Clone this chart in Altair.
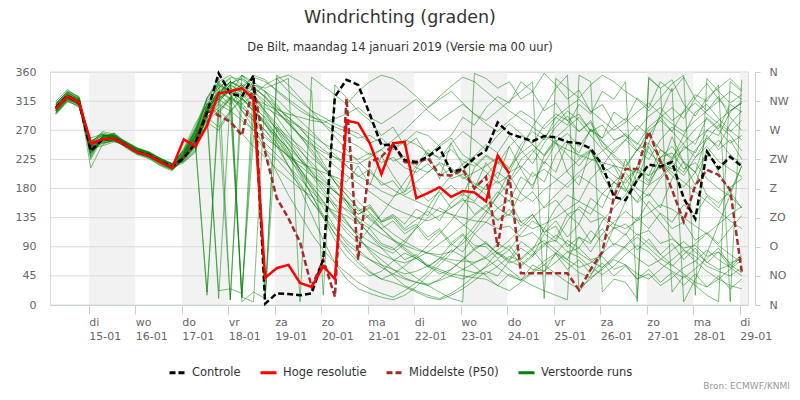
import altair as alt
import pandas as pd

TITLE = "Windrichting (graden)"
SUBTITLE = "De Bilt, maandag 14 januari 2019 (Versie ma 00 uur)"
CREDITS = "Bron: ECMWF/KNMI"

SERIES = ["Controle", "Hoge resolutie", "Middelste (P50)", "Verstoorde runs"]
COLORS = ["#000000", "#ff0000", "#a52a2a", "#008000"]
DASHES = [[6, 3], [1, 0], [6, 3], [1, 0]]

DAY_NAMES = ["di", "wo", "do", "vr", "za", "zo", "ma", "di", "wo", "do", "vr", "za", "zo", "ma", "di"]
DAY_TICKS = list(range(15, 30))
DIR_TICKS = [0, 45, 90, 135, 180, 225, 270, 315, 360]
DIR_LABELS = ["N", "NO", "O", "ZO", "Z", "ZW", "W", "NW", "N"]
SHADED_DAYS = [15, 17, 19, 21, 23, 25, 27, 29]

X_MIN, X_MAX = 14.165, 29.175
T_START = 14 + 7 / 24   # 14-01 07:00
T_STEP = 0.25           # 6 uur

controle = [305, 323, 313, 238, 256, 257, 247, 236, 232, 221, 214, 227, 250,
            297, 358, 327, 322, 355, 2, 18, 17, 15, 18, 71, 322, 348, 340, 295, 247, 248,
            224, 221, 229, 243, 206, 210, 227, 239, 282, 265, 259, 253, 261, 259, 252,
            250, 242, 216, 167, 162, 193, 217, 214, 221, 165, 133, 237, 211, 229, 214]

hoge_resolutie = [303, 323, 313, 250, 256, 257, 247, 236, 231, 221, 212, 256, 245,
                  277, 327, 330, 335, 318, 42, 57, 62, 34, 28, 60, 40, 285, 281, 250, 202, 250,
                  252, 165, 173, 182, 167, 176, 174, 160, 231, 203]

middelste = [303, 321, 311, 244, 256, 258, 248, 236, 231, 222, 213, 228, 250,
             300, 293, 283, 262, 340, 236, 165, 134, 97, 28, 70, 13, 319, 70, 221, 229, 248,
             221, 219, 227, 201, 200, 209, 180, 198, 90, 201, 49, 49, 49, 49, 49,
             23, 55, 82, 167, 210, 210, 268, 222, 178, 129, 185, 209, 201, 178, 51]

verstoorde_runs = [
    [300, 320, 310, 248, 255, 257, 247, 236, 232, 223, 214, 230, 262,
     295, 320, 330, 318, 300, 285, 262, 240, 210, 180, 150, 120,
     95, 80, 70, 62, 55, 48, 52, 60, 72, 66, 55, 50,
     48, 60, 75, 68, 55, 52, 66, 82, 74, 58, 47, 60,
     78, 92, 82, 64, 52, 42, 56, 72, 88, 62, 50],
    [310, 326, 316, 230, 262, 262, 250, 240, 234, 224, 216, 222, 240,
     300, 335, 350, 12, 340, 330, 305, 290, 275, 250, 220, 190,
     160, 130, 118, 95, 88, 70, 78, 58, 72, 95, 82, 110,
     128, 150, 138, 175, 205, 190, 232, 255, 228, 240, 205, 215,
     180, 158, 172, 150, 195, 222, 205, 262, 240, 255, 225],
    [298, 318, 312, 255, 250, 254, 245, 238, 228, 219, 211, 235, 270,
     310, 300, 320, 310, 325, 340, 350, 355, 345, 330, 15, 340,
     320, 300, 285, 262, 275, 245, 258, 230, 248, 262, 290, 278,
     305, 322, 312, 345, 330, 358, 340, 318, 332, 298, 310, 280,
     262, 248, 275, 290, 305, 288, 320, 342, 318, 300, 312],
    [306, 328, 318, 225, 258, 266, 252, 242, 236, 226, 215, 228, 255,
     285, 22, 25, 18, 262, 240, 225, 205, 185, 160, 135, 110,
     90, 70, 52, 40, 35, 28, 20, 12, 8, 15, 25, 38,
     52, 45, 68, 88, 75, 110, 98, 130, 152, 140, 172, 160,
     195, 210, 188, 220, 200, 182, 205, 170, 158, 175, 150],
    [296, 316, 305, 250, 262, 259, 244, 233, 229, 218, 210, 226, 248,
     305, 330, 318, 290, 270, 250, 232, 215, 195, 175, 158, 140,
     125, 110, 98, 88, 80, 95, 120, 150, 178, 200, 218, 230,
     248, 235, 262, 240, 218, 250, 275, 292, 268, 285, 252, 228,
     212, 240, 262, 290, 268, 248, 228, 255, 278, 262, 238],
    [312, 330, 322, 242, 246, 252, 249, 239, 235, 225, 217, 240, 275,
     320, 345, 355, 340, 325, 300, 275, 250, 225, 200, 175, 150,
     128, 105, 85, 70, 55, 42, 35, 30, 40, 55, 70, 85,
     72, 58, 45, 38, 52, 68, 80, 65, 50, 42, 55, 70,
     62, 48, 40, 55, 70, 85, 75, 60, 52, 45, 58],
    [302, 322, 315, 252, 266, 261, 246, 235, 227, 216, 209, 224, 245,
     290, 275, 300, 320, 345, 10, 350, 330, 315, 300, 290, 280,
     272, 265, 250, 258, 240, 252, 268, 262, 245, 258, 232, 220,
     205, 188, 200, 172, 160, 178, 192, 208, 225, 238, 215, 200,
     188, 212, 192, 228, 245, 220, 205, 235, 255, 232, 218],
    [308, 324, 313, 236, 252, 256, 251, 241, 233, 222, 213, 232, 265,
     298, 320, 340, 330, 315, 295, 270, 248, 225, 205, 185, 165,
     145, 128, 110, 92, 85, 100, 118, 135, 150, 140, 125, 110,
     95, 80, 68, 60, 75, 92, 108, 95, 80, 68, 58, 72,
     90, 105, 88, 72, 60, 78, 95, 110, 92, 78, 65],
    [294, 314, 308, 245, 260, 263, 248, 234, 230, 220, 212, 220, 238,
     312, 290, 8, 320, 300, 280, 255, 230, 200, 170, 140, 110,
     85, 65, 50, 40, 48, 60, 75, 92, 110, 130, 155, 180,
     200, 222, 210, 248, 268, 255, 290, 278, 310, 295, 330, 318,
     345, 5, 352, 335, 348, 310, 292, 320, 335, 350, 332],
    [315, 333, 320, 233, 257, 258, 246, 237, 231, 224, 216, 237, 258,
     300, 325, 340, 355, 345, 330, 318, 300, 285, 268, 250, 232,
     215, 200, 188, 176, 168, 175, 190, 205, 220, 212, 198, 185,
     170, 150, 162, 128, 140, 112, 122, 90, 105, 82, 110, 128,
     145, 130, 160, 140, 118, 128, 100, 112, 95, 118, 138],
    [303, 321, 311, 258, 264, 256, 243, 232, 226, 215, 207, 229, 252,
     305, 330, 345, 5, 20, 10, 355, 340, 320, 300, 280, 260,
     240, 222, 205, 190, 178, 168, 160, 152, 145, 140, 135, 130,
     128, 118, 122, 105, 112, 95, 100, 82, 88, 70, 75, 55,
     62, 40, 48, 30, 42, 58, 68, 85, 70, 58, 45],
    [300, 319, 309, 240, 254, 260, 253, 243, 237, 227, 218, 226, 246,
     290, 310, 300, 285, 270, 258, 245, 230, 215, 200, 188, 175,
     162, 145, 155, 130, 140, 125, 148, 138, 170, 185, 168, 212,
     230, 218, 245, 262, 250, 278, 295, 285, 268, 282, 245, 232,
     215, 240, 225, 255, 275, 262, 298, 310, 288, 270, 255],
    [309, 327, 317, 212, 248, 255, 247, 238, 234, 223, 214, 242, 280,
     310, 340, 330, 318, 305, 290, 272, 255, 238, 220, 200, 178,
     155, 130, 108, 88, 70, 55, 42, 30, 20, 10, 5, 358,
     350, 335, 345, 318, 330, 300, 312, 285, 295, 268, 278, 255,
     262, 240, 250, 228, 235, 210, 220, 195, 180, 168, 150],
    [297, 317, 311, 246, 259, 262, 250, 236, 229, 219, 210, 223, 243,
     300, 318, 335, 320, 300, 278, 260, 242, 225, 208, 192, 175,
     160, 140, 150, 128, 135, 115, 125, 105, 118, 96, 110, 92,
     90, 72, 85, 62, 78, 95, 80, 100, 88, 115, 98, 120,
     108, 135, 118, 142, 128, 155, 140, 168, 150, 182, 195],
    [305, 324, 314, 250, 268, 264, 249, 237, 230, 221, 213, 231, 260,
     295, 312, 338, 300, 275, 240, 205, 170, 140, 110, 85, 65,
     50, 35, 25, 18, 12, 22, 35, 50, 68, 85, 75, 60,
     45, 30, 22, 35, 50, 62, 48, 35, 25, 40, 58, 75,
     92, 110, 95, 78, 62, 48, 35, 28, 40, 55, 70],
    [311, 329, 319, 238, 255, 256, 245, 235, 231, 222, 215, 236, 268,
     305, 345, 325, 355, 330, 310, 290, 265, 240, 215, 195, 175,
     160, 140, 152, 128, 138, 118, 132, 145, 130, 158, 172, 160,
     185, 205, 192, 225, 240, 218, 250, 232, 215, 238, 205, 190,
     178, 160, 185, 198, 220, 205, 240, 258, 245, 280, 300],
    [299, 320, 312, 244, 251, 253, 246, 239, 235, 226, 218, 221, 236,
     300, 330, 320, 305, 290, 270, 250, 228, 205, 182, 160, 138,
     118, 100, 88, 78, 70, 65, 72, 82, 95, 108, 122, 138,
     152, 175, 160, 198, 185, 222, 205, 250, 235, 272, 258, 298,
     285, 320, 305, 345, 330, 352, 318, 300, 322, 290, 270],
    [304, 323, 315, 228, 261, 265, 251, 240, 233, 221, 211, 233, 262,
     285, 300, 318, 336, 352, 345, 332, 318, 305, 292, 280, 268,
     255, 245, 232, 240, 222, 230, 212, 205, 218, 195, 202, 188,
     178, 192, 170, 160, 175, 150, 162, 140, 148, 128, 135, 118,
     125, 108, 115, 95, 102, 88, 92, 75, 82, 65, 72],
    [301, 322, 314, 249, 256, 258, 248, 237, 232, 224, 217, 239, 272,
     310, 295, 320, 12, 5, 330, 310, 285, 262, 235, 212, 190,
     170, 148, 132, 118, 102, 88, 75, 62, 55, 48, 45, 42,
     40, 30, 48, 38, 62, 52, 80, 70, 105, 95, 130, 150,
     170, 195, 185, 220, 210, 245, 235, 270, 262, 298, 315],
    [307, 325, 316, 241, 253, 255, 247, 238, 230, 220, 212, 228, 254,
     295, 318, 330, 340, 322, 300, 280, 255, 230, 205, 180, 155,
     130, 105, 82, 62, 45, 30, 22, 15, 10, 18, 30, 45,
     60, 82, 70, 98, 85, 118, 102, 140, 125, 165, 150, 190,
     175, 215, 200, 240, 225, 262, 248, 290, 272, 310, 298],
    [302, 324, 317, 253, 263, 260, 245, 234, 228, 217, 209, 225, 249,
     20, 300, 285, 265, 245, 228, 210, 195, 180, 168, 155, 145,
     138, 125, 140, 118, 130, 110, 122, 100, 115, 92, 108, 85,
     98, 78, 92, 70, 85, 62, 78, 55, 70, 48, 65, 45,
     60, 40, 55, 35, 50, 30, 48, 28, 45, 25, 40],
    [296, 315, 307, 235, 257, 261, 250, 241, 236, 225, 216, 234, 264,
     300, 325, 345, 335, 320, 305, 295, 285, 275, 262, 250, 240,
     232, 225, 235, 220, 228, 212, 205, 218, 200, 210, 195, 205,
     215, 228, 212, 235, 248, 230, 252, 265, 245, 270, 258, 275,
     288, 270, 292, 305, 285, 298, 312, 295, 280, 268, 285],
    [310, 331, 321, 247, 255, 254, 246, 237, 233, 223, 215, 230, 257,
     290, 305, 322, 308, 285, 270, 245, 215, 188, 160, 138, 118,
     100, 85, 70, 58, 48, 40, 35, 32, 38, 45, 55, 65,
     75, 95, 85, 110, 130, 118, 150, 170, 160, 195, 215, 240,
     255, 238, 270, 285, 268, 300, 325, 315, 340, 5, 348],
    [300, 320, 311, 239, 259, 263, 252, 242, 235, 226, 219, 238, 270,
     315, 335, 352, 348, 335, 322, 305, 290, 272, 255, 240, 228,
     215, 198, 210, 185, 192, 170, 182, 160, 175, 150, 165, 140,
     155, 130, 148, 122, 140, 112, 130, 105, 125, 98, 118, 92,
     110, 85, 102, 78, 95, 70, 88, 65, 82, 58, 75],
    [303, 325, 315, 244, 258, 259, 248, 238, 231, 222, 214, 229, 258,
     300, 328, 342, 350, 338, 320, 300, 282, 260, 240, 215, 190,
     170, 150, 135, 118, 100, 85, 72, 60, 52, 45, 40, 48,
     58, 70, 55, 40, 30, 22, 15, 8, 355, 345, 20, 40,
     35, 10, 350, 335, 20, 45, 30, 15, 5, 345, 330],
    [306, 322, 312, 242, 254, 257, 249, 239, 233, 224, 215, 233, 266,
     302, 325, 310, 335, 355, 348, 330, 315, 300, 290, 285, 275,
     268, 258, 262, 250, 242, 255, 248, 235, 228, 240, 222, 215,
     232, 220, 205, 215, 198, 210, 195, 182, 200, 188, 172, 190,
     205, 180, 168, 195, 215, 200, 228, 245, 222, 210, 198],
    [304, 322, 313, 246, 257, 258, 247, 237, 232, 222, 213, 231, 263,
     320, 350, 8, 355, 340, 335, 342, 350, 5, 352, 338, 325,
     310, 330, 345, 355, 350, 338, 322, 305, 318, 330, 312, 295,
     285, 300, 315, 330, 345, 10, 350, 335, 320, 340, 355, 345,
     330, 318, 300, 320, 342, 355, 15, 350, 330, 312, 325],
    [308, 326, 315, 240, 260, 261, 250, 240, 234, 223, 214, 226, 252,
     15, 318, 305, 12, 300, 282, 258, 232, 210, 185, 160, 135,
     112, 95, 120, 140, 165, 190, 215, 240, 225, 250, 268, 255,
     240, 262, 280, 265, 248, 232, 258, 275, 290, 270, 252, 235,
     255, 278, 262, 240, 228, 250, 272, 288, 270, 250, 262],
    [298, 317, 309, 247, 256, 255, 246, 236, 231, 221, 213, 229, 255,
     300, 325, 345, 338, 320, 298, 270, 240, 205, 170, 135, 100,
     75, 58, 45, 52, 68, 80, 72, 60, 48, 55, 70, 88,
     95, 80, 65, 72, 88, 100, 85, 70, 58, 65, 80, 95,
     88, 72, 60, 70, 85, 98, 82, 66, 55, 62, 78],
    [312, 329, 318, 234, 253, 257, 251, 241, 235, 225, 217, 238, 268,
     305, 340, 325, 300, 285, 262, 245, 230, 220, 212, 205, 198,
     190, 215, 185, 230, 200, 175, 210, 235, 195, 250, 215, 180,
     220, 195, 245, 210, 180, 230, 255, 205, 185, 240, 200, 170,
     225, 190, 245, 210, 260, 220, 185, 240, 205, 175, 215],
    [301, 320, 310, 250, 262, 262, 249, 238, 233, 224, 216, 232, 261,
     298, 322, 340, 328, 308, 288, 262, 235, 210, 188, 170, 155,
     148, 135, 122, 110, 100, 92, 85, 80, 78, 82, 95, 115,
     140, 170, 205, 240, 275, 305, 335, 355, 20, 45, 80, 120,
     160, 205, 250, 295, 335, 5, 40, 80, 125, 170, 215],
    [305, 324, 314, 243, 258, 260, 248, 238, 230, 220, 211, 227, 254,
     302, 328, 345, 335, 318, 310, 302, 295, 290, 285, 282, 288,
     295, 305, 290, 280, 292, 305, 318, 300, 285, 298, 310, 295,
     280, 268, 285, 300, 288, 272, 290, 305, 318, 300, 285, 270,
     282, 298, 312, 295, 280, 268, 285, 300, 315, 330, 318],
    [300, 321, 312, 236, 255, 259, 252, 242, 236, 226, 218, 236, 255,
     300, 10, 320, 342, 330, 315, 298, 280, 262, 245, 230, 215,
     200, 188, 175, 162, 150, 142, 135, 130, 138, 150, 162, 158,
     145, 132, 140, 128, 118, 125, 135, 148, 160, 150, 138, 125,
     118, 130, 142, 155, 148, 135, 122, 110, 125, 140, 152],
    [309, 328, 318, 244, 260, 264, 250, 239, 232, 222, 215, 230, 260,
     295, 315, 332, 325, 305, 280, 250, 215, 180, 140, 100, 65,
     40, 25, 18, 12, 8, 15, 28, 45, 62, 80, 100, 122,
     145, 168, 190, 212, 235, 258, 280, 300, 285, 262, 240, 218,
     195, 172, 150, 128, 105, 85, 68, 52, 40, 30, 25],
    [296, 318, 310, 252, 264, 260, 245, 235, 229, 219, 210, 225, 245,
     282, 270, 298, 318, 336, 322, 300, 280, 262, 248, 236, 228,
     222, 218, 228, 240, 255, 270, 288, 305, 322, 338, 352, 345,
     330, 315, 300, 288, 275, 262, 250, 240, 232, 225, 220, 215,
     210, 205, 200, 212, 225, 240, 255, 270, 285, 300, 312],
    [302, 323, 316, 238, 250, 254, 246, 236, 230, 221, 214, 234, 270,
     318, 342, 330, 312, 290, 12, 275, 260, 245, 228, 212, 195,
     178, 160, 142, 125, 110, 98, 88, 80, 74, 70, 68, 66,
     72, 85, 100, 118, 135, 152, 170, 188, 205, 222, 238, 252,
     265, 250, 235, 220, 205, 190, 175, 160, 145, 130, 118],
]

N = len(controle)
for r in verstoorde_runs:
    assert len(r) == N, len(r)
times = [T_START + T_STEP * i for i in range(N)]


def series_frame(values, name, run):
    return pd.DataFrame({"t": times[:len(values)], "v": values, "serie": name, "run": run})


df_runs = pd.concat([series_frame(r, "Verstoorde runs", f"r{k}") for k, r in enumerate(verstoorde_runs)])
df_ctrl = series_frame(controle, "Controle", "c")
df_hres = series_frame(hoge_resolutie, "Hoge resolutie", "h")
df_med = series_frame(middelste, "Middelste (P50)", "m")
df_bands = pd.DataFrame({"x0": SHADED_DAYS, "x1": [min(d + 1, X_MAX) for d in SHADED_DAYS],
                         "y0": 0, "y1": 360})
df_grid = pd.DataFrame({"v": DIR_TICKS})
df_one = pd.DataFrame({"k": [0]})

W, H = 698, 233
FONT = "DejaVu Sans"
AXIS_COL = "#c0d0e0"

xs = alt.Scale(domain=[X_MIN, X_MAX], nice=False, zero=False)
ys = alt.Scale(domain=[0, 360], nice=False, zero=True)

day_expr = "[" + ",".join(f"'{d}'" for d in DAY_NAMES) + "]"
dir_expr = "[" + ",".join(f"'{d}'" for d in DIR_LABELS) + "]"

x_axis = alt.Axis(values=DAY_TICKS, labelExpr=f"[{day_expr}[datum.value-15], datum.value + '-01']",
                  labelAlign="left", labelBaseline="top", labelFontSize=11, labelColor="#666666",
                  labelLineHeight=14, labelPadding=2, tickSize=9, tickColor=AXIS_COL, domainColor=AXIS_COL,
                  labelFont=FONT, grid=False, title=None, labelOverlap=False)
left_axis = alt.Axis(values=DIR_TICKS, orient="left", domain=False, ticks=False, grid=False,
                     labelPadding=14, labelFontSize=11, labelColor="#666666", labelFont=FONT, title=None)
right_axis = alt.Axis(values=DIR_TICKS, orient="right", offset=7, domain=True, domainColor=AXIS_COL,
                      ticks=True, tickColor=AXIS_COL, tickSize=5, grid=False, labelPadding=9,
                      labelExpr=f"{dir_expr}[datum.value/45]", labelFontSize=11, labelColor="#666666",
                      labelFont=FONT, title=None)

legend = alt.Legend(title=None, orient="none", legendX=118, legendY=291, direction="horizontal",
                    symbolType="stroke", symbolSize=256, symbolStrokeWidth=3, symbolOpacity=1,
                    labelFontSize=11.5, labelFont=FONT, labelColor="#333333", columnPadding=13,
                    labelOffset=5, padding=0)
color_enc = alt.Color("serie:N", scale=alt.Scale(domain=SERIES, range=COLORS), legend=legend)
dash_enc = alt.StrokeDash("serie:N", scale=alt.Scale(domain=SERIES, range=DASHES), legend=legend)

bands = alt.Chart(df_bands).mark_rect(color="#f2f2f2").encode(
    x=alt.X("x0:Q", scale=xs, axis=x_axis), x2="x1:Q",
    y=alt.Y("y0:Q", scale=ys, axis=None), y2="y1:Q")

grid = alt.Chart(df_grid).mark_rule(color="#d8d8d8", strokeWidth=1).encode(
    y=alt.Y("v:Q", scale=ys, axis=left_axis))


def lines(df, width, opacity=1.0, y_axis=None):
    return alt.Chart(df).mark_line(strokeWidth=width, opacity=opacity).encode(
        x=alt.X("t:Q", scale=xs, axis=None),
        y=alt.Y("v:Q", scale=ys, axis=y_axis),
        detail="run:N", color=color_enc, strokeDash=dash_enc)


runs_layer = lines(df_runs, 1, 0.55)
med_layer = lines(df_med, 2.5)
ctrl_layer = lines(df_ctrl, 2.5, y_axis=right_axis)
hres_layer = lines(df_hres, 2.5)


def text(label, x, y, size, color, align="center"):
    return alt.Chart(df_one).mark_text(text=label, fontSize=size, font=FONT, color=color,
                                       align=align, baseline="middle").encode(
        x=alt.value(x), y=alt.value(y))


title = text(TITLE, 350, -54, 17.5, "#333333")
subtitle = text(SUBTITLE, 350, -24, 11.5, "#333333")
credits = text(CREDITS, 740, 314, 9, "#999999", align="right")

chart = alt.layer(bands, grid, runs_layer, med_layer, ctrl_layer, hres_layer, title, subtitle, credits).resolve_axis(
    x="independent", y="independent"
).properties(
    width=W, height=H, autosize="none",
    padding={"left": 42, "top": 64, "right": 44, "bottom": 87},
    background="white",
).configure_view(stroke=None).configure(font=FONT)

chart.save("out.html", embed_options={"renderer": "svg", "actions": False})
